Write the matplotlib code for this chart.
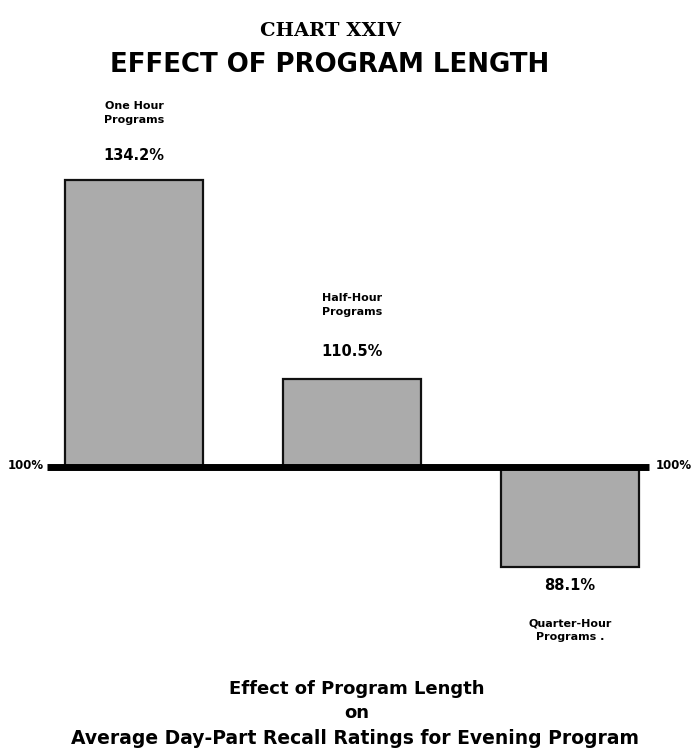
import matplotlib.pyplot as plt

# data (percent of average)
groups = ["One Hour\nPrograms", "Half-Hour\nPrograms", "Quarter-Hour\nPrograms ."]
values = [134.2, 110.5, 88.1]
value_labels = ["134.2%", "110.5%", "88.1%"]
base = 100

fig = plt.figure(figsize=(6.95, 7.51), dpi=100)
ax = fig.add_axes([0, 0, 1, 1])
ax.set_xlim(-0.615, 2.573)
ax.set_ylim(66.2, 155.6)
ax.axis("off")

x = list(range(len(values)))
heights = [v - base for v in values]
ax.bar(x, heights, bottom=base, width=0.63, color="#ababab",
       edgecolor="#111111", linewidth=1.6, zorder=2)

# heavy 100% line
ax.plot([-0.40, 2.36], [base, base], color="black", lw=5, solid_capstyle="butt", zorder=3)
ax.text(-0.58, base + 0.2, "100%", ha="left", va="center", fontsize=8.5, fontweight="bold")
ax.text(2.394, base + 0.2, "100%", ha="left", va="center", fontsize=8.5, fontweight="bold")

fam = "DejaVu Sans"
# labels above / below bars, centred on the bars
name_y = [142.1, 119.3, 80.6]
val_y = [137.1, 113.7, 85.95]
for xi, g, vl, ny, vy in zip(x, groups, value_labels, name_y, val_y):
    ax.text(xi, ny, g, ha="center", va="center", fontsize=8,
            fontweight="bold", linespacing=1.5, family=fam)
    ax.text(xi, vy, vl, ha="center", va="center", fontsize=10.5,
            fontweight="bold", family=fam)

# titles
fig.text(0.476, 1 - 31 / 751, "CHART XXIV", ha="center", va="center",
         fontsize=14, fontweight="bold", family="DejaVu Serif")
fig.text(0.475, 1 - 65 / 751, "EFFECT OF PROGRAM LENGTH", ha="center", va="center",
         fontsize=18.7, fontweight="heavy", family=fam)

# caption
fig.text(0.513, 1 - 689 / 751, "Effect of Program Length", ha="center", va="center",
         fontsize=13, fontweight="bold", family=fam)
fig.text(0.513, 1 - 713 / 751, "on", ha="center", va="center",
         fontsize=13, fontweight="bold", family=fam)
fig.text(0.511, 1 - 738 / 751, "Average Day-Part Recall Ratings for Evening Program",
         ha="center", va="center", fontsize=13.5, fontweight="bold", family=fam)

plt.savefig("out.png", dpi=100, facecolor="white")
